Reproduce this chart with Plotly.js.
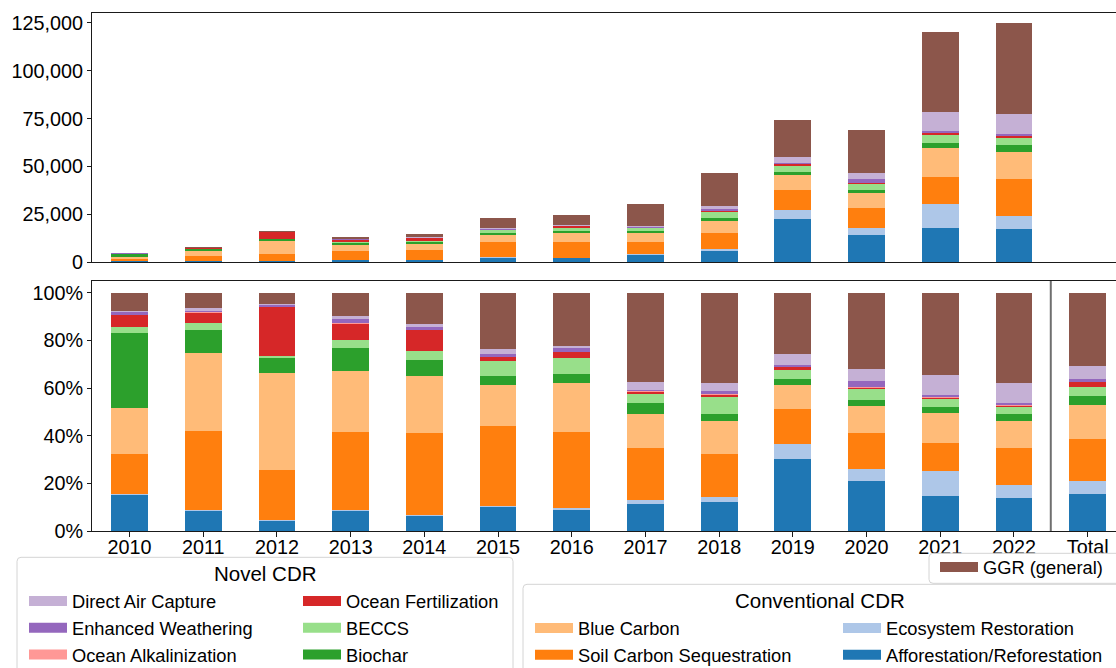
<!DOCTYPE html>
<html>
<head>
<meta charset="utf-8">
<script src="https://cdn.plot.ly/plotly-3.0.1.min.js"></script>
<style>
html, body { margin: 0; padding: 0; background: #ffffff; }
#chart { width: 1116px; height: 668px; }
</style>
</head>
<body>
<div id="chart"></div>
<script>
// ---------------- data ----------------
const years = ['2010','2011','2012','2013','2014','2015','2016','2017','2018','2019','2020','2021','2022'];
const totalLabel = 'Total';
const categories = years.concat([totalLabel]);

// annual total removals
const annualTotal = [4870, 8020, 16400, 13250, 14830, 23210, 24780, 30540, 46780, 74030, 68790, 120130, 124850];

// share of each year's total, in %
const afforestation = [15.0, 8.4, 4.2, 8.4, 6.3, 10.0, 8.7, 11.2, 12.1, 30.2, 20.9, 14.6, 13.7];
const ecosystem     = [0.6, 0.3, 0.4, 0.4, 0.4, 0.5, 0.8, 1.7, 2.1, 6.3, 5.0, 10.5, 5.5];
const soilCarbon    = [16.8, 33.3, 20.9, 32.7, 34.4, 33.5, 32.0, 21.9, 18.1, 14.7, 15.2, 11.8, 15.6];
const blueCarbon    = [19.2, 32.9, 40.8, 25.7, 24.0, 17.3, 20.6, 14.3, 13.8, 10.1, 11.4, 12.6, 11.3];
const biochar       = [31.6, 9.6, 6.3, 9.7, 6.7, 3.8, 3.8, 4.6, 3.0, 2.5, 2.5, 2.5, 3.0];
const beccs         = [2.5, 3.0, 0.9, 3.3, 3.8, 6.3, 6.8, 3.8, 7.1, 3.8, 4.6, 3.4, 2.9];
const oceanFert     = [5.0, 4.2, 20.6, 6.8, 8.8, 1.5, 2.5, 0.8, 0.9, 1.3, 0.4, 0.6, 0.6];
const oceanAlk      = [0.0, 0.3, 0.0, 0.4, 0.0, 0.2, 0.0, 0.3, 0.4, 0.0, 0.4, 0.2, 0.3];
const enhWeathering = [1.4, 0.2, 0.7, 1.7, 1.3, 1.2, 1.7, 0.8, 1.3, 0.8, 2.6, 0.9, 0.8];
const dac           = [0.4, 1.6, 0.6, 1.2, 1.3, 2.1, 0.8, 3.0, 3.3, 4.6, 5.0, 8.4, 8.4];
const ggr           = [7.5, 6.2, 4.6, 9.7, 13.0, 23.6, 22.3, 37.6, 37.9, 25.7, 32.0, 34.5, 37.9];

const yTicksAbs = [0, 25000, 50000, 75000, 100000, 125000];
const yTicksPct = [0, 20, 40, 60, 80, 100];
const yTickTextPct = ['0%', '20%', '40%', '60%', '80%', '100%'];

// stacking order, bottom to top
const series = [
  {name: 'Afforestation/Reforestation', share: afforestation, color: '#1f77b4', legend: 'legend4', rank: 2},
  {name: 'Ecosystem Restoration',       share: ecosystem,     color: '#aec7e8', legend: 'legend4', rank: 1},
  {name: 'Soil Carbon Sequestration',   share: soilCarbon,    color: '#ff7f0e', legend: 'legend3', rank: 2},
  {name: 'Blue Carbon',                 share: blueCarbon,    color: '#ffbb78', legend: 'legend3', rank: 1},
  {name: 'Biochar',                     share: biochar,       color: '#2ca02c', legend: 'legend2', rank: 3},
  {name: 'BECCS',                       share: beccs,         color: '#98df8a', legend: 'legend2', rank: 2},
  {name: 'Ocean Fertilization',         share: oceanFert,     color: '#d62728', legend: 'legend2', rank: 1},
  {name: 'Ocean Alkalinization',        share: oceanAlk,      color: '#ff9896', legend: 'legend',  rank: 3},
  {name: 'Enhanced Weathering',         share: enhWeathering, color: '#9467bd', legend: 'legend',  rank: 2},
  {name: 'Direct Air Capture',          share: dac,           color: '#c5b0d5', legend: 'legend',  rank: 1},
  {name: 'GGR (general)',               share: ggr,           color: '#8c564b', legend: 'legend5', rank: 1}
];

// ---------------- geometry helpers ----------------
const W = 1116, H = 668;
const M = {l: 92, r: 0, t: 13, b: 137};
const PW = W - M.l - M.r, PH = H - M.t - M.b;
const px = v => (v - M.l) / PW;          // pixel x -> paper
const py = v => (H - M.b - v) / PH;      // pixel y -> paper

const FONT = 'Liberation Sans, Arial, sans-serif';
const grand = annualTotal.reduce((a, b) => a + b, 0);

const traces = [];
series.forEach(s => {
  const absVals = s.share.map((p, i) => p * annualTotal[i] / 100);
  const sumAbs = absVals.reduce((a, b) => a + b, 0);
  const pctVals = s.share.concat([sumAbs / grand * 100]);
  traces.push({
    type: 'bar', x: years, y: absVals, xaxis: 'x', yaxis: 'y',
    width: 0.5, marker: {color: s.color, line: {width: 0}},
    name: s.name, showlegend: false, hoverinfo: 'skip'
  });
  traces.push({
    type: 'bar', x: categories, y: pctVals, xaxis: 'x2', yaxis: 'y2',
    width: 0.5, marker: {color: s.color, line: {width: 0}},
    name: s.name, showlegend: false, hoverinfo: 'skip'
  });
});

// legend entries (wide swatches), ordered per legend column
const legendOrder = ['legend', 'legend2', 'legend3', 'legend4', 'legend5'];
legendOrder.forEach(lg => {
  series.filter(s => s.legend === lg).sort((a, b) => a.rank - b.rank).forEach(s => {
    traces.push({
      type: 'scatter', mode: 'lines', x: [null], y: [null], xaxis: 'x', yaxis: 'y',
      name: s.name, legend: lg, showlegend: true, hoverinfo: 'skip',
      line: {color: s.color, width: 13}
    });
  });
});

function roundRect(x0p, y0p, x1p, y1p, r) {
  const x0 = px(x0p), x1 = px(x1p), y0 = py(y0p), y1 = py(y1p);
  const rx = r / PW, ry = r / PH;
  return `M${x0 + rx},${y0} L${x1 - rx},${y0} Q${x1},${y0} ${x1},${y0 - ry} ` +
         `L${x1},${y1 + ry} Q${x1},${y1} ${x1 - rx},${y1} L${x0 + rx},${y1} ` +
         `Q${x0},${y1} ${x0},${y1 + ry} L${x0},${y0 - ry} Q${x0},${y0} ${x0 + rx},${y0} Z`;
}

const boxStyle = {type: 'path', xref: 'paper', yref: 'paper', layer: 'above',
  fillcolor: 'rgba(255,255,255,0.8)', line: {color: '#d4d4d4', width: 1}};

const shapes = [
  Object.assign({path: roundRect(17, 557.3, 513, 690, 4)}, boxStyle),
  Object.assign({path: roundRect(523, 584.3, 1130, 690, 4)}, boxStyle),
  Object.assign({path: roundRect(929, 553.3, 1130, 583.3, 4)}, boxStyle),
  {type: 'line', xref: 'x2', yref: 'y2 domain', x0: 12.5, x1: 12.5, y0: 0, y1: 1,
   line: {color: '#6f6f6f', width: 2}, layer: 'above'}
];

const legendBase = {
  orientation: 'v', xanchor: 'left', yanchor: 'top', traceorder: 'normal',
  bgcolor: 'rgba(0,0,0,0)', borderwidth: 0, itemwidth: 38,
  font: {family: FONT, size: 18.3, color: '#000'}, itemclick: false, itemdoubleclick: false
};
const FIRST = 18.4;  // px offset from legend top to first row centre

const axisCommon = {
  showline: true, mirror: true, linecolor: '#1a1a1a', linewidth: 1,
  showgrid: false, zeroline: false,
  tickfont: {family: FONT, size: 19.8, color: '#000'},
  tickcolor: '#1a1a1a', tickwidth: 1
};

const layout = {
  width: W, height: H,
  margin: {l: M.l, r: M.r, t: M.t, b: M.b, pad: 0, autoexpand: false},
  paper_bgcolor: '#ffffff', plot_bgcolor: '#ffffff',
  barmode: 'stack', bargap: 0,
  font: {family: FONT, color: '#000'},
  xaxis: Object.assign({}, axisCommon, {
    domain: [0, 1], anchor: 'y', type: 'category',
    categoryorder: 'array', categoryarray: categories,
    range: [-0.51, 13.385], showticklabels: false, ticks: ''
  }),
  yaxis: Object.assign({}, axisCommon, {
    domain: [py(262), 1], anchor: 'x', range: [0, 130200],
    tickmode: 'array', tickvals: yTicksAbs, tickformat: ',d',
    ticks: 'outside', ticklen: 4
  }),
  xaxis2: Object.assign({}, axisCommon, {
    domain: [0, 1], anchor: 'y2', type: 'category',
    categoryorder: 'array', categoryarray: categories,
    range: [-0.51, 13.385], ticks: 'outside', ticklen: 5,
    ticklabelstandoff: -7
  }),
  yaxis2: Object.assign({}, axisCommon, {
    domain: [0, py(281)], anchor: 'x2', range: [0, 105],
    tickmode: 'array', tickvals: yTicksPct, ticktext: yTickTextPct,
    ticks: 'outside', ticklen: 4
  }),
  legend:  Object.assign({}, legendBase, {x: px(24),  y: py(601 - FIRST)}),
  legend2: Object.assign({}, legendBase, {x: px(298), y: py(601 - FIRST)}),
  legend3: Object.assign({}, legendBase, {x: px(530), y: py(628 - FIRST)}),
  legend4: Object.assign({}, legendBase, {x: px(838), y: py(628 - FIRST)}),
  legend5: Object.assign({}, legendBase, {x: px(935), y: py(567 - FIRST)}),
  shapes: shapes,
  annotations: [
    {text: 'Novel CDR', xref: 'paper', yref: 'paper', x: px(265), y: py(573),
     xanchor: 'center', yanchor: 'middle', showarrow: false,
     font: {family: FONT, size: 20.5, color: '#000'}},
    {text: 'Conventional CDR', xref: 'paper', yref: 'paper', x: px(820), y: py(600),
     xanchor: 'center', yanchor: 'middle', showarrow: false,
     font: {family: FONT, size: 20.5, color: '#000'}}
  ],
  showlegend: true
};

Plotly.newPlot('chart', traces, layout, {displayModeBar: false, staticPlot: true});
</script>
</body>
</html>
